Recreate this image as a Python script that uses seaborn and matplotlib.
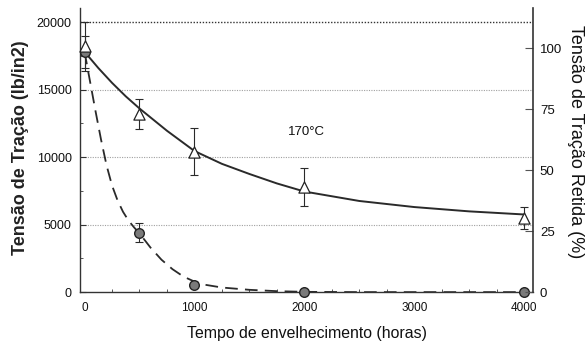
import matplotlib
matplotlib.use("Agg")
import matplotlib.pyplot as plt
import seaborn as sns
import pandas as pd
import numpy as np
from matplotlib.ticker import MultipleLocator

# ---- data ----
hours_pts = [0, 500, 1000, 2000, 4000]
tri_vals = [18200, 13200, 10400, 7800, 5500]       # open triangles
tri_err = [1800, 1100, 1750, 1400, 800]
circ_vals = [17800, 4400, 500, 0, 0]                # filled circles
circ_err = [1200, 700, 0, 0, 0]

solid_t = [0, 125, 250, 375, 500, 750, 1000, 1250, 1500, 1750, 2000, 2500, 3000, 3500, 4000]
solid_v = [17800, 16600, 15500, 14500, 13600, 11950, 10450, 9500, 8750, 8050, 7450, 6750, 6300, 5980, 5750]

dash_t = [0, 50, 100, 150, 200, 250, 300, 350, 400, 450, 500, 600, 700, 800, 900, 1000,
          1100, 1250, 1500, 1750, 2000, 2500, 3000, 4000]
dash_v = [17800, 15600, 13400, 11300, 9400, 7900, 6800, 5950, 5300, 4800, 4350, 3300, 2400,
          1700, 1150, 780, 540, 340, 170, 70, 20, 0, 0, 0]

x_ticks = [0, 1000, 2000, 3000, 4000]
left_ticks = [0, 5000, 10000, 15000, 20000]
right_ticks = [0, 25, 50, 75, 100]
label_temp = "170°C"

# ---- plotting ----
sns.set_theme(style="white")
plt.rcParams['font.family'] = ['Liberation Sans', 'DejaVu Sans']

fig = plt.figure(figsize=(5.85, 3.49), dpi=100)
ax = fig.add_axes([0.137, 0.163, 0.774, 0.814])

line_col = "#2a2a2a"
grid_col = "#a0a0a0"

# grid lines
for v in left_ticks[1:]:
    ax.axhline(v, color="#333333" if v == 20000 else grid_col,
               lw=1.0 if v == 20000 else 0.8, ls=(0, (1, 1.2)), zorder=0)

df_s = pd.DataFrame({"t": solid_t, "v": solid_v})
df_d = pd.DataFrame({"t": dash_t, "v": dash_v})
sns.lineplot(data=df_s, x="t", y="v", ax=ax, color=line_col, lw=1.4, zorder=3)
sns.lineplot(data=df_d, x="t", y="v", ax=ax, color=line_col, lw=1.3,
             zorder=3).lines[-1].set_dashes([7, 4])

ax.errorbar(hours_pts, tri_vals, yerr=tri_err, fmt="none", ecolor=line_col,
            elinewidth=0.8, capsize=3, capthick=0.8, zorder=4, clip_on=False)
ax.errorbar(hours_pts, circ_vals, yerr=circ_err, fmt="none", ecolor=line_col,
            elinewidth=0.8, capsize=3, capthick=0.8, zorder=4, clip_on=False)

df_c = pd.DataFrame({"t": hours_pts, "v": circ_vals})
df_t = pd.DataFrame({"t": hours_pts, "v": tri_vals})
sns.scatterplot(data=df_c, x="t", y="v", ax=ax, marker="o", s=48,
                color="#7a7a7a", edgecolor="#222222", linewidth=1.0,
                zorder=5, clip_on=False)
sns.scatterplot(data=df_t, x="t", y="v", ax=ax, marker="^", s=65,
                color="white", edgecolor="#222222", linewidth=0.9, zorder=6,
                clip_on=False)

ax.set_xlim(-40, 4080)
ax.set_ylim(0, 21040)
ax.set_xticks(x_ticks)
ax.set_yticks(left_ticks)
ax.xaxis.set_minor_locator(MultipleLocator(250))
ax.yaxis.set_minor_locator(MultipleLocator(2500))
ax.tick_params(axis="both", which="major", direction="in", length=4,
               width=0.8, color="#333333", labelcolor="#111111")
ax.tick_params(axis="both", which="minor", direction="in", length=2.5,
               width=0.7, color="#555555", bottom=True, left=True)
ax.tick_params(axis="x", labelsize=8.5, pad=7)
ax.tick_params(axis="y", labelsize=9, pad=6)

ax.set_xlabel("Tempo de envelhecimento (horas)", fontsize=11.4,
              color="#111111", va="center")
ax.xaxis.set_label_coords(0.5, -0.145)
ax.set_ylabel("Tensão de Tração (lb/in2)", fontsize=13, fontweight="bold",
              color="#222222", va="center")
ax.yaxis.set_label_coords(-0.132, 0.51)

for side in ["left", "bottom"]:
    ax.spines[side].set_color("#333333")
    ax.spines[side].set_linewidth(1.0)
ax.spines["top"].set_visible(False)
ax.spines["right"].set_visible(False)

ax.text(2018, 11850, label_temp, fontsize=9.5, ha="center", va="center",
        color="#111111")

ax2 = ax.twinx()
ax2.set_ylim(0, 116.4)
ax2.set_yticks(right_ticks)
ax2.tick_params(axis="y", direction="in", length=6, width=0.8,
                color="#555555", labelsize=9.5, pad=5, labelcolor="#111111")
ax2.set_ylabel("Tensão de Tração Retida (%)", fontsize=13, rotation=-90,
               color="#111111", va="center")
ax2.yaxis.set_label_coords(1.093, 0.528)
ax2.spines["top"].set_visible(False)
ax2.spines["left"].set_visible(False)
ax2.spines["bottom"].set_visible(False)
ax2.spines["right"].set_color("#333333")
ax2.spines["right"].set_linewidth(1.2)
ax2.grid(False)

fig.savefig("out.png", dpi=100)
